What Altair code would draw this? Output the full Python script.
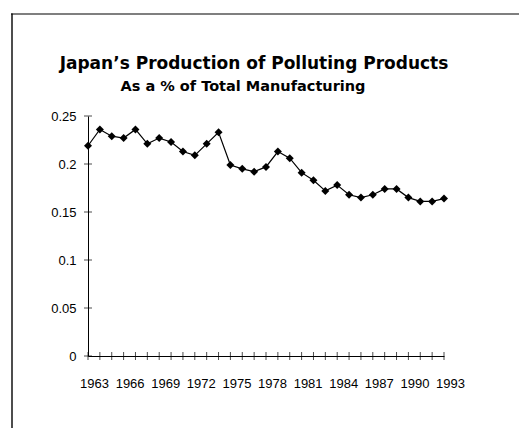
import altair as alt
import pandas as pd

# Share of polluting products in total manufacturing, Japan
YEARS = [1963, 1964, 1965, 1966, 1967, 1968, 1969, 1970, 1971, 1972,
         1973, 1974, 1975, 1976, 1977, 1978, 1979, 1980, 1981, 1982,
         1983, 1984, 1985, 1986, 1987, 1988, 1989, 1990, 1991, 1992, 1993]
SHARE = [0.219, 0.236, 0.229, 0.227, 0.236, 0.221, 0.227, 0.223, 0.213, 0.209,
         0.221, 0.233, 0.199, 0.195, 0.192, 0.197, 0.213, 0.206, 0.191, 0.183,
         0.172, 0.178, 0.168, 0.165, 0.168, 0.174, 0.174, 0.165, 0.161, 0.161, 0.164]

LABEL_YEARS = [1963, 1966, 1969, 1972, 1975, 1978, 1981, 1984, 1987, 1990, 1993]
Y_TICKS = [0, 0.05, 0.1, 0.15, 0.2, 0.25]

TITLE = "Japan\u2019s Production of Polluting Products"
SUBTITLE = "As a % of Total Manufacturing"

df = pd.DataFrame({"year": YEARS, "share": SHARE})
xticks_df = pd.DataFrame({"year": YEARS, "share": [0] * len(YEARS)})
yticks_df = pd.DataFrame({"year": [YEARS[0]] * len(Y_TICKS), "share": Y_TICKS})

LABEL_FONT = "Liberation Sans"

# plot area geometry inside the canvas
PAD = {"left": 88, "top": 116, "right": 75, "bottom": 72}
PLOT_W, PLOT_H = 356, 240
CANVAS_W = PAD["left"] + PLOT_W + PAD["right"]
CANVAS_H = PAD["top"] + PLOT_H + PAD["bottom"]

X_ENC = alt.X(
    "year:Q",
    scale=alt.Scale(domain=[YEARS[0], YEARS[-1]], nice=False, zero=False),
    axis=alt.Axis(
        values=LABEL_YEARS, format="d", title=None, grid=False,
        tickSize=0, domainColor="black", domainWidth=1,
        labelPadding=21, labelOffset=6, labelFont=LABEL_FONT, labelFontSize=13,
        labelColor="black", labelFlush=False, labelOverlap=False,
    ),
)
Y_ENC = alt.Y(
    "share:Q",
    scale=alt.Scale(domain=[0, 0.25], nice=False, zero=True),
    axis=alt.Axis(
        values=Y_TICKS, format="~g", title=None, grid=False,
        tickSize=0, domainColor="black", domainWidth=1,
        labelPadding=12, labelFont=LABEL_FONT, labelFontSize=13,
        labelColor="black",
    ),
)

line = alt.Chart(df).mark_line(color="black", strokeWidth=1.2).encode(x=X_ENC, y=Y_ENC)
points = alt.Chart(df).mark_point(
    shape="diamond", filled=True, size=64, color="black", opacity=1
).encode(x=X_ENC, y=Y_ENC)

# cross-style tick marks straddling both axes
xticks = alt.Chart(xticks_df).mark_tick(
    orient="vertical", size=8, thickness=1, color="black"
).encode(x=X_ENC, y=Y_ENC)
yticks = alt.Chart(yticks_df).mark_tick(
    orient="horizontal", size=8, thickness=1, color="black"
).encode(x=X_ENC, y=Y_ENC)

one = alt.Data(values=[{}])

# outer frame (left and top edges) as thin filled bands up to the canvas edges
frame_left = alt.Chart(one).mark_rect(color="#4d4d4d", strokeWidth=0).encode(
    x=alt.value(-77), x2=alt.value(-75),
    y=alt.value(-102.6), y2=alt.value(CANVAS_H - PAD["top"]),
)
frame_top = alt.Chart(one).mark_rect(color="black", strokeWidth=0).encode(
    x=alt.value(-77), x2=alt.value(CANVAS_W - PAD["left"]),
    y=alt.value(-102.6), y2=alt.value(-101.4),
)

title = alt.Chart(one).mark_text(
    text=TITLE, font="DejaVu Sans", fontSize=17, fontWeight="bold",
    color="black", align="center", baseline="alphabetic",
).encode(x=alt.value(166), y=alt.value(-47))
subtitle = alt.Chart(one).mark_text(
    text=SUBTITLE, font="DejaVu Sans", fontSize=14.5, fontWeight="bold",
    color="black", align="center", baseline="alphabetic",
).encode(x=alt.value(155), y=alt.value(-25.5))

chart = alt.layer(
    line, points, xticks, yticks, frame_left, frame_top, title, subtitle
).properties(
    width=PLOT_W,
    height=PLOT_H,
    autosize=alt.AutoSizeParams(type="none"),
    padding=PAD,
).configure_view(strokeWidth=0)

chart.save("out.html", embed_options={"renderer": "svg", "actions": False})
